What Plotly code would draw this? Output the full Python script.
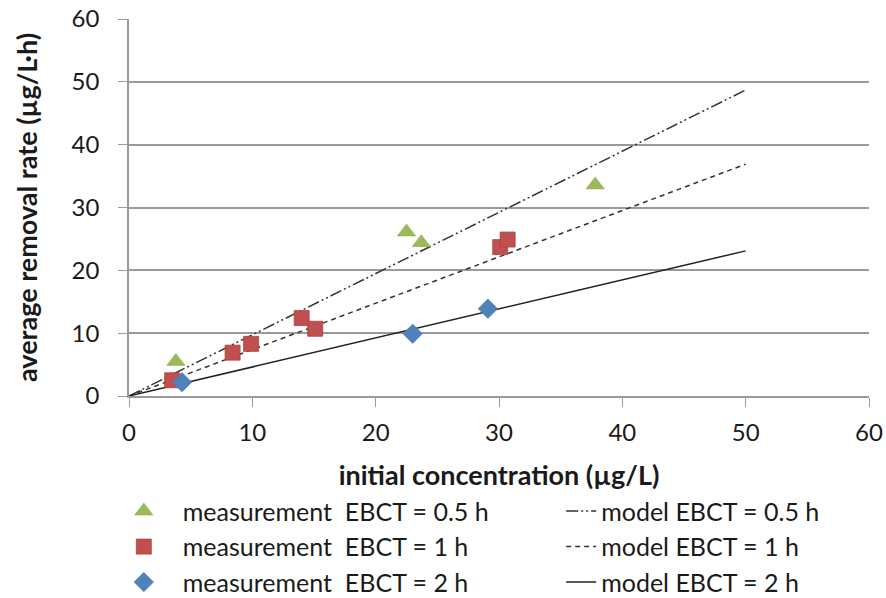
import plotly.graph_objects as go

# measurement data
x_meas_05 = [3.8, 22.5, 23.7, 37.8]
y_meas_05 = [5.5, 26.1, 24.4, 33.6]
x_meas_1 = [3.5, 8.4, 9.9, 14.0, 15.1, 30.1, 30.7]
y_meas_1 = [2.5, 6.9, 8.3, 12.4, 10.7, 23.7, 24.9]
x_meas_2 = [4.3, 23.0, 29.1]
y_meas_2 = [2.2, 9.9, 13.9]

# model lines
x_model = [0, 50]
y_model_05 = [0, 48.7]
y_model_1 = [0, 36.9]
y_model_2 = [0, 23.1]

font_family = "Lato, Carlito, 'Open Sans', sans-serif"
text_color = "#1a1a1a"

fig = go.Figure()

fig.add_trace(go.Scatter(x=x_model, y=y_model_05, mode="lines",
                         name="model EBCT = 0.5 h", legend="legend2", legendgroup="a",
                         line=dict(color="#333333", width=1.5, dash="12px,3px,2px,3px,2px,3px")))
fig.add_trace(go.Scatter(x=x_model, y=y_model_1, mode="lines",
                         name="model EBCT = 1 h", legend="legend2", legendgroup="b",
                         line=dict(color="#333333", width=1.5, dash="5px,4px")))
fig.add_trace(go.Scatter(x=x_model, y=y_model_2, mode="lines",
                         name="model EBCT = 2 h", legend="legend2", legendgroup="c",
                         line=dict(color="#222222", width=1.5)))

fig.add_trace(go.Scatter(x=x_meas_05, y=y_meas_05, mode="markers",
                         name="measurement\u00a0 EBCT = 0.5 h", legendgroup="d",
                         marker=dict(symbol="triangle-up", size=16, color="#9BBB59",
                                     line=dict(color="#8AAA4A", width=0.5))))
fig.add_trace(go.Scatter(x=x_meas_1, y=y_meas_1, mode="markers",
                         name="measurement\u00a0 EBCT = 1 h", legendgroup="e",
                         marker=dict(symbol="square", size=15, color="#C0504D",
                                     line=dict(color="#A8423F", width=0.8))))
fig.add_trace(go.Scatter(x=x_meas_2, y=y_meas_2, mode="markers",
                         name="measurement\u00a0 EBCT = 2 h", legendgroup="f",
                         marker=dict(symbol="diamond", size=15, color="#4F81BD",
                                     line=dict(color="#4572A7", width=0.5))))

axis_common = dict(
    range=[0, 60], dtick=10, ticks="outside", ticklen=9, tickwidth=1.2,
    tickcolor="#9a9a9a", showline=True, linecolor="#9a9a9a", linewidth=1.5,
    tickfont=dict(size=24, color=text_color, family=font_family),
    zeroline=False, automargin=False,
)

fig.update_xaxes(**axis_common, showgrid=False, ticklabelstandoff=5,
                 title=dict(text="<b>initial concentration (µg/L)</b>",
                            font=dict(size=27, color=text_color, family=font_family),
                            standoff=22))
fig.update_yaxes(**axis_common, showgrid=True, gridcolor="#9a9a9a", gridwidth=1.5,
                 ticklabelstandoff=14,
                 title=dict(text="<b>average removal rate (µg/L·h)</b>",
                            font=dict(size=27, color=text_color, family=font_family),
                            standoff=26))

legend_font = dict(size=25, color=text_color, family=font_family)
fig.update_layout(
    width=886, height=598,
    margin=dict(l=129, r=17, t=19, b=202, autoexpand=False),
    plot_bgcolor="white", paper_bgcolor="white",
    font=dict(family=font_family, color=text_color),
    showlegend=True,
    legend=dict(x=-0.0327, y=-0.245, xanchor="left", yanchor="top",
                orientation="v", traceorder="grouped", tracegroupgap=0,
                font=legend_font, bgcolor="rgba(0,0,0,0)", itemwidth=68),
    legend2=dict(x=0.584, y=-0.245, xanchor="left", yanchor="top",
                 orientation="v", traceorder="grouped", tracegroupgap=0,
                 font=legend_font, bgcolor="rgba(0,0,0,0)"),
)

fig.write_html("out.html")
